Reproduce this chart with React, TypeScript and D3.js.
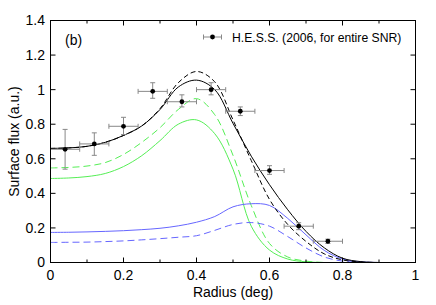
import React from "react";
import * as d3 from "d3";

// Radius grid (deg) for model curves
const radius = [0, 0.05, 0.1, 0.15, 0.2, 0.25, 0.3, 0.35, 0.4, 0.45, 0.5, 0.55, 0.6, 0.65, 0.7, 0.75, 0.8, 0.85, 0.9];
const blackSolid = [0.66, 0.663, 0.672, 0.695, 0.735, 0.79, 0.885, 1.015, 1.055, 1.0, 0.805, 0.615, 0.45, 0.305, 0.18, 0.085, 0.025, 0.005, 0];
const blackDashed = [0.66, 0.663, 0.672, 0.695, 0.735, 0.79, 0.89, 1.04, 1.105, 1.045, 0.825, 0.59, 0.365, 0.22, 0.122, 0.05, 0.015, 0.003, 0];
const greenDashed = [0.547, 0.55, 0.558, 0.578, 0.625, 0.695, 0.78, 0.885, 0.948, 0.855, 0.62, 0.33, 0.11, 0.032, 0.008, 0, 0, 0, 0];
const greenSolid = [0.486, 0.489, 0.497, 0.515, 0.555, 0.618, 0.705, 0.8, 0.825, 0.745, 0.54, 0.21, 0.072, 0.02, 0.004, 0, 0, 0, 0];
const blueSolid = [0.174, 0.175, 0.177, 0.18, 0.184, 0.19, 0.198, 0.212, 0.233, 0.266, 0.322, 0.34, 0.33, 0.255, 0.16, 0.07, 0.02, 0.004, 0];
const blueDashed = [0.116, 0.117, 0.118, 0.121, 0.125, 0.131, 0.138, 0.146, 0.155, 0.186, 0.22, 0.231, 0.21, 0.15, 0.084, 0.032, 0.008, 0.001, 0];

// H.E.S.S. data points
const hessR = [0.04, 0.12, 0.2, 0.28, 0.36, 0.44, 0.52, 0.6, 0.68, 0.76];
const hessFlux = [0.655, 0.686, 0.788, 0.99, 0.93, 1.0, 0.875, 0.532, 0.21, 0.123];
const hessErrLo = [0.54, 0.62, 0.74, 0.95, 0.9, 0.97, 0.85, 0.51, 0.19, 0.11];
const hessErrHi = [0.77, 0.75, 0.84, 1.04, 0.97, 1.04, 0.9, 0.56, 0.23, 0.135];
const hessRLo = [0.0, 0.08, 0.16, 0.24, 0.32, 0.4, 0.48, 0.56, 0.64, 0.72];
const hessRHi = [0.08, 0.16, 0.24, 0.32, 0.4, 0.48, 0.56, 0.64, 0.72, 0.8];

const xMajor = [0, 0.2, 0.4, 0.6, 0.8, 1];
const xMajorLabels = ["0", "0.2", "0.4", "0.6", "0.8", "1"];
const xMinor = [0.1, 0.3, 0.5, 0.7, 0.9];
const yMajor = [0, 0.2, 0.4, 0.6, 0.8, 1, 1.2, 1.4];
const yMajorLabels = ["0", "0.2", "0.4", "0.6", "0.8", "1", "1.2", "1.4"];

const FONT = "'Liberation Sans', Arial, Helvetica, sans-serif";

export default function App() {
  const W = 436, H = 305;
  const L = 50.5, R = 415.5, T = 20.5, B = 262.5;
  const x = d3.scaleLinear().domain([0, 1]).range([L, R]);
  const y = d3.scaleLinear().domain([0, 1.4]).range([B, T]);

  const line = d3
    .line<number>()
    .x((_, i) => x(radius[i]))
    .y((d) => y(d))
    .curve(d3.curveCatmullRom.alpha(0.5));

  const curves = [
    { data: greenSolid, color: "#55ee55", dash: undefined },
    { data: greenDashed, color: "#55ee55", dash: "7,4" },
    { data: blueSolid, color: "#6666ff", dash: undefined },
    { data: blueDashed, color: "#6666ff", dash: "7,4" },
    { data: blackDashed, color: "#000", dash: "5,3" },
    { data: blackSolid, color: "#000", dash: undefined },
  ];

  const errColor = "#888";
  const cap = 2.5;

  return (
    <svg width={W} height={H} style={{ position: "absolute", left: 0, top: 0, background: "#fff" }}>
      <defs>
        <clipPath id="plotclip">
          <rect x={L} y={T} width={R - L} height={B - T} />
        </clipPath>
      </defs>
      <rect x={0} y={0} width={W} height={H} fill="#fff" />

      {/* curves */}
      <g clipPath="url(#plotclip)" fill="none" strokeWidth={1}>
        {curves.map((c, i) => (
          <path key={i} d={line(c.data) || ""} stroke={c.color} strokeDasharray={c.dash} />
        ))}
      </g>

      {/* data with error bars */}
      <g>
        {hessR.map((r, i) => (
          <g key={i}>
            <g stroke={errColor} strokeWidth={1}>
              <line x1={x(r)} x2={x(r)} y1={y(hessErrLo[i])} y2={y(hessErrHi[i])} />
              <line x1={x(r) - cap} x2={x(r) + cap} y1={y(hessErrLo[i])} y2={y(hessErrLo[i])} />
              <line x1={x(r) - cap} x2={x(r) + cap} y1={y(hessErrHi[i])} y2={y(hessErrHi[i])} />
              <line x1={x(hessRLo[i])} x2={x(hessRHi[i])} y1={y(hessFlux[i])} y2={y(hessFlux[i])} />
              <line x1={x(hessRLo[i])} x2={x(hessRLo[i])} y1={y(hessFlux[i]) - cap} y2={y(hessFlux[i]) + cap} />
              <line x1={x(hessRHi[i])} x2={x(hessRHi[i])} y1={y(hessFlux[i]) - cap} y2={y(hessFlux[i]) + cap} />
            </g>
            <circle cx={x(r)} cy={y(hessFlux[i])} r={2.4} fill="#000" />
          </g>
        ))}
      </g>

      {/* frame */}
      <rect x={L} y={T} width={R - L} height={B - T} fill="none" stroke="#000" strokeWidth={1} />

      {/* ticks */}
      <g stroke="#000" strokeWidth={1}>
        {xMajor.map((v, i) => (
          <g key={"xm" + i}>
            <line x1={x(v)} x2={x(v)} y1={B} y2={B - 5} />
            <line x1={x(v)} x2={x(v)} y1={T} y2={T + 5} />
          </g>
        ))}
        {xMinor.map((v, i) => (
          <g key={"xn" + i}>
            <line x1={x(v)} x2={x(v)} y1={B} y2={B - 3} />
            <line x1={x(v)} x2={x(v)} y1={T} y2={T + 3} />
          </g>
        ))}
        {yMajor.map((v, i) => (
          <g key={"ym" + i}>
            <line x1={L} x2={L + 5} y1={y(v)} y2={y(v)} />
            <line x1={R} x2={R - 5} y1={y(v)} y2={y(v)} />
          </g>
        ))}
      </g>

      {/* tick labels */}
      <g fontFamily={FONT} fontSize={14} fill="#000">
        {xMajor.map((v, i) => (
          <text key={"xl" + i} x={x(v)} y={280} textAnchor="middle">
            {xMajorLabels[i]}
          </text>
        ))}
        {yMajor.map((v, i) => (
          <text key={"yl" + i} x={45} y={y(v)} dy="0.35em" textAnchor="end">
            {yMajorLabels[i]}
          </text>
        ))}
      </g>

      {/* axis titles */}
      <text x={(L + R) / 2} y={296.5} textAnchor="middle" fontFamily={FONT} fontSize={14}>
        Radius (deg)
      </text>
      <text
        transform={`translate(18.5,${(T + B) / 2}) rotate(-90)`}
        textAnchor="middle"
        fontFamily={FONT}
        fontSize={14}
      >
        Surface flux (a.u.)
      </text>

      {/* panel label */}
      <text x={65} y={45} fontFamily={FONT} fontSize={14}>
        (b)
      </text>

      {/* legend */}
      <g stroke={errColor} strokeWidth={1}>
        <line x1={203.5} x2={221.5} y1={37} y2={37} />
        <line x1={203.5} x2={203.5} y1={34.5} y2={39.5} />
        <line x1={221.5} x2={221.5} y1={34.5} y2={39.5} />
      </g>
      <circle cx={212.5} cy={37} r={2.4} fill="#000" />
      <text x={232} y={41.5} fontFamily={FONT} fontSize={12.2}>
        H.E.S.S. (2006, for entire SNR)
      </text>
    </svg>
  );
}
